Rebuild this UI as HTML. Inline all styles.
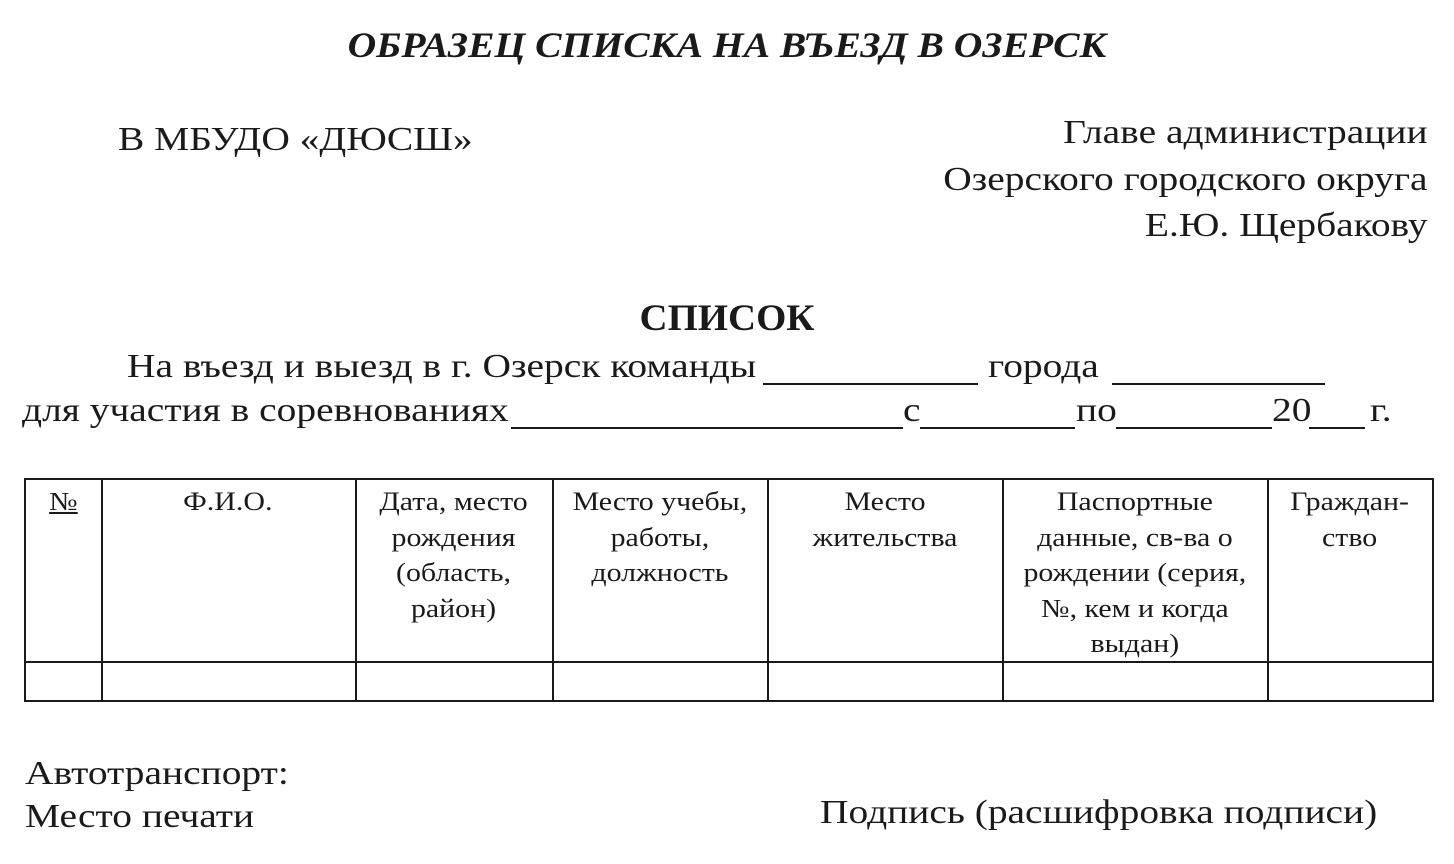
<!DOCTYPE html>
<html><head><meta charset="utf-8"><style>
body{margin:0;width:1454px;height:864px;background:#fff;position:relative;overflow:hidden;font-family:"Liberation Serif","DejaVu Serif",serif;color:#1a1a1a}
.a{position:absolute;white-space:nowrap;line-height:1;transform-origin:left top;transform:scaleX(1.16)}
.l{position:absolute;background:#1a1a1a}
.c{position:absolute;text-align:center;font-size:26px;line-height:35.5px;top:484px;white-space:nowrap}
.c span{display:inline-block;transform:scaleX(1.15)}
</style></head><body>
<div class="a" style="left:0;width:1454px;text-align:center;top:27px;font-size:36px;font-weight:bold;font-style:italic;transform-origin:center top;transform:scaleX(1.1)">ОБРАЗЕЦ СПИСКА НА ВЪЕЗД В ОЗЕРСК</div>
<div class="a" style="left:118px;top:123px;font-size:34px">В МБУДО «ДЮСШ»</div>
<div class="a" style="right:26px;top:110px;font-size:34px;text-align:right;line-height:46.5px;transform-origin:right top">Главе администрации<br>Озерского городского округа<br>Е.Ю. Щербакову</div>
<div class="a" style="left:0;width:1454px;text-align:center;top:300px;font-size:37px;font-weight:bold;transform-origin:center top;transform:scaleX(1.05)">СПИСОК</div>
<div class="a" style="left:127px;top:350px;font-size:34px">На въезд и выезд в г. Озерск команды</div>
<div class="l" style="left:763px;top:383px;width:215px;height:2px"></div>
<div class="a" style="left:988px;top:350px;font-size:34px">города</div>
<div class="l" style="left:1112px;top:383px;width:213px;height:2px"></div>
<div class="a" style="left:22px;top:394px;font-size:34px">для участия в соревнованиях</div>
<div class="l" style="left:511px;top:427px;width:392px;height:2px"></div>
<div class="a" style="left:903px;top:394px;font-size:34px">с</div>
<div class="l" style="left:920px;top:427px;width:155px;height:2px"></div>
<div class="a" style="left:1076px;top:394px;font-size:34px">по</div>
<div class="l" style="left:1116px;top:427px;width:156px;height:2px"></div>
<div class="a" style="left:1272px;top:394px;font-size:34px">20</div>
<div class="l" style="left:1309px;top:427px;width:56px;height:2px"></div>
<div class="a" style="left:1370px;top:394px;font-size:34px">г.</div>

<div class="l" style="left:24px;top:478px;width:1410px;height:2px"></div>
<div class="l" style="left:24px;top:661px;width:1410px;height:2px"></div>
<div class="l" style="left:24px;top:700px;width:1410px;height:2px"></div>
<div class="l" style="left:24px;top:478px;width:2px;height:224px"></div>
<div class="l" style="left:101px;top:478px;width:2px;height:224px"></div>
<div class="l" style="left:355px;top:478px;width:2px;height:224px"></div>
<div class="l" style="left:552px;top:478px;width:2px;height:224px"></div>
<div class="l" style="left:767px;top:478px;width:2px;height:224px"></div>
<div class="l" style="left:1002px;top:478px;width:2px;height:224px"></div>
<div class="l" style="left:1267px;top:478px;width:2px;height:224px"></div>
<div class="l" style="left:1432px;top:478px;width:2px;height:224px"></div>

<div class="c" style="left:24px;width:78px"><span><u>№</u></span></div>
<div class="c" style="left:101px;width:254px"><span>Ф.И.О.</span></div>
<div class="c" style="left:355px;width:197px"><span>Дата, место<br>рождения<br>(область,<br>район)</span></div>
<div class="c" style="left:552px;width:215px"><span>Место учебы,<br>работы,<br>должность</span></div>
<div class="c" style="left:767px;width:235px"><span>Место<br>жительства</span></div>
<div class="c" style="left:1002px;width:265px"><span>Паспортные<br>данные, св-ва о<br>рождении (серия,<br>№, кем и когда<br>выдан)</span></div>
<div class="c" style="left:1267px;width:165px"><span>Граждан-<br>ство</span></div>

<div class="a" style="left:25px;top:757px;font-size:34px">Автотранспорт:</div>
<div class="a" style="left:25px;top:800px;font-size:34px">Место печати</div>
<div class="a" style="left:820px;top:796px;font-size:34px">Подпись (расшифровка подписи)</div>
</body></html>
